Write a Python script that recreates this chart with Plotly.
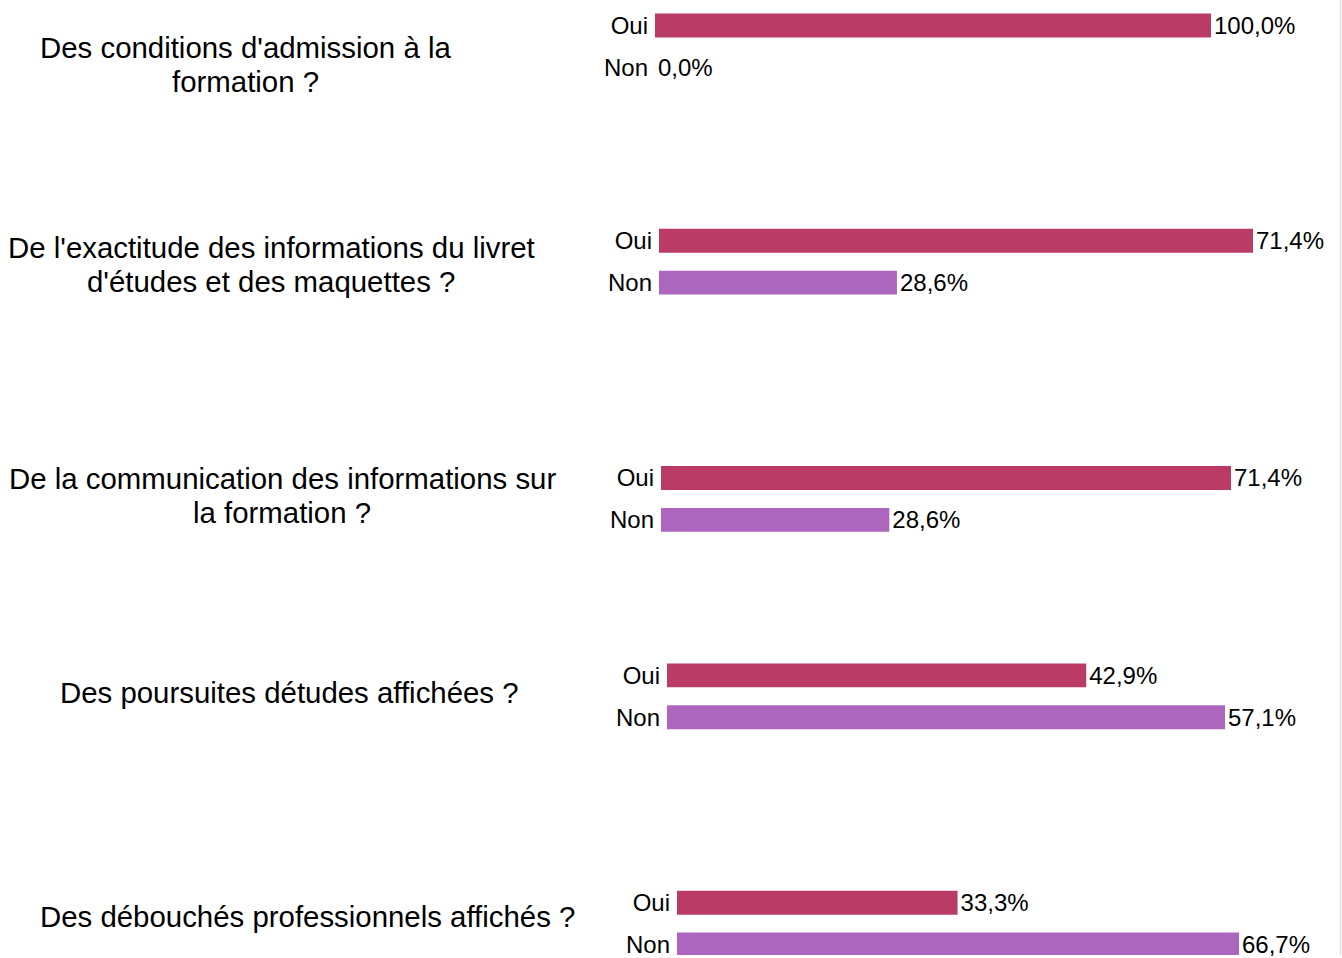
import plotly.graph_objects as go

W, H = 1342, 958

questions = [
    "Des conditions d'admission à la<br>formation ?",
    "De l'exactitude des informations du livret<br>d'études et des maquettes ?",
    "De la communication des informations sur<br>la formation ?",
    "Des poursuites détudes affichées ?",
    "Des débouchés professionnels affichés ?",
]
categories = ["Oui", "Non"]
oui = [100.0, 71.4, 71.4, 42.9, 33.3]
non = [0.0, 28.6, 28.6, 57.1, 66.7]

colors = ["#BA3C66", "#AC66BD"]

# layout (pixels)
bar_x0 = [655, 659, 661, 667, 677]
bar_x1 = [1211, 1253, 1231, 1225, 1239]
row_y = [25.5, 241.5, 479.5, 677.5, 905.5]
text_x = [245, 271, 282, 289, 307]
text_y = [65, 265, 497, 695, 919]
LINE = 34
ROW = 42
FONT = "Liberation Sans, Arial, sans-serif"

fig = go.Figure()
annotations = []
for i in range(5):
    n = "" if i == 0 else str(i + 1)
    vals = [oui[i], non[i]]
    fig.add_trace(go.Bar(
        x=vals, y=categories, orientation="h",
        marker=dict(color=colors, line=dict(width=0)),
        texttemplate="%{x:.1f}%", textposition="outside", constraintext="none",
        textfont=dict(size=24, color="black", family=FONT),
        cliponaxis=False, showlegend=False, hoverinfo="skip",
        xaxis="x" + n, yaxis="y" + n,
    ))
    top = row_y[i] - ROW / 2
    bottom = min(row_y[i] + ROW * 1.5, H)
    span = (bottom - top) / ROW
    fig.layout["xaxis" + n] = dict(
        domain=[bar_x0[i] / W, bar_x1[i] / W],
        range=[0, max(vals)], visible=False, anchor="y" + n,
    )
    fig.layout["yaxis" + n] = dict(
        domain=[1 - bottom / H, 1 - top / H],
        range=[-0.5 + span, -0.5], type="category",
        showgrid=False, zeroline=False, showline=False, ticks="",
        tickfont=dict(size=24, color="black", family=FONT),
        ticklabelstandoff=6, anchor="x" + n,
    )
    lines = questions[i].split("<br>")
    for k, line in enumerate(lines):
        cy = text_y[i] + (k - (len(lines) - 1) / 2) * LINE
        annotations.append(dict(
            text=line, xref="paper", yref="paper",
            x=text_x[i] / W, y=1 - cy / H,
            xanchor="center", yanchor="middle", showarrow=False, align="center",
            font=dict(size=29.4, color="black", family=FONT),
        ))

fig.update_layout(
    width=W, height=H, autosize=False,
    margin=dict(l=0, r=0, t=0, b=0),
    paper_bgcolor="white", plot_bgcolor="white",
    bargap=1 - 24 / ROW, separators=", ",
    annotations=annotations,
    shapes=[dict(type="line", xref="paper", yref="paper",
                 x0=1 - 1.5 / W, x1=1 - 1.5 / W, y0=0, y1=1,
                 line=dict(color="#E0E0E0", width=1.5))],
)

fig.write_html("out.html", config={"displayModeBar": False},
               post_script="document.body.style.margin='0px';")
